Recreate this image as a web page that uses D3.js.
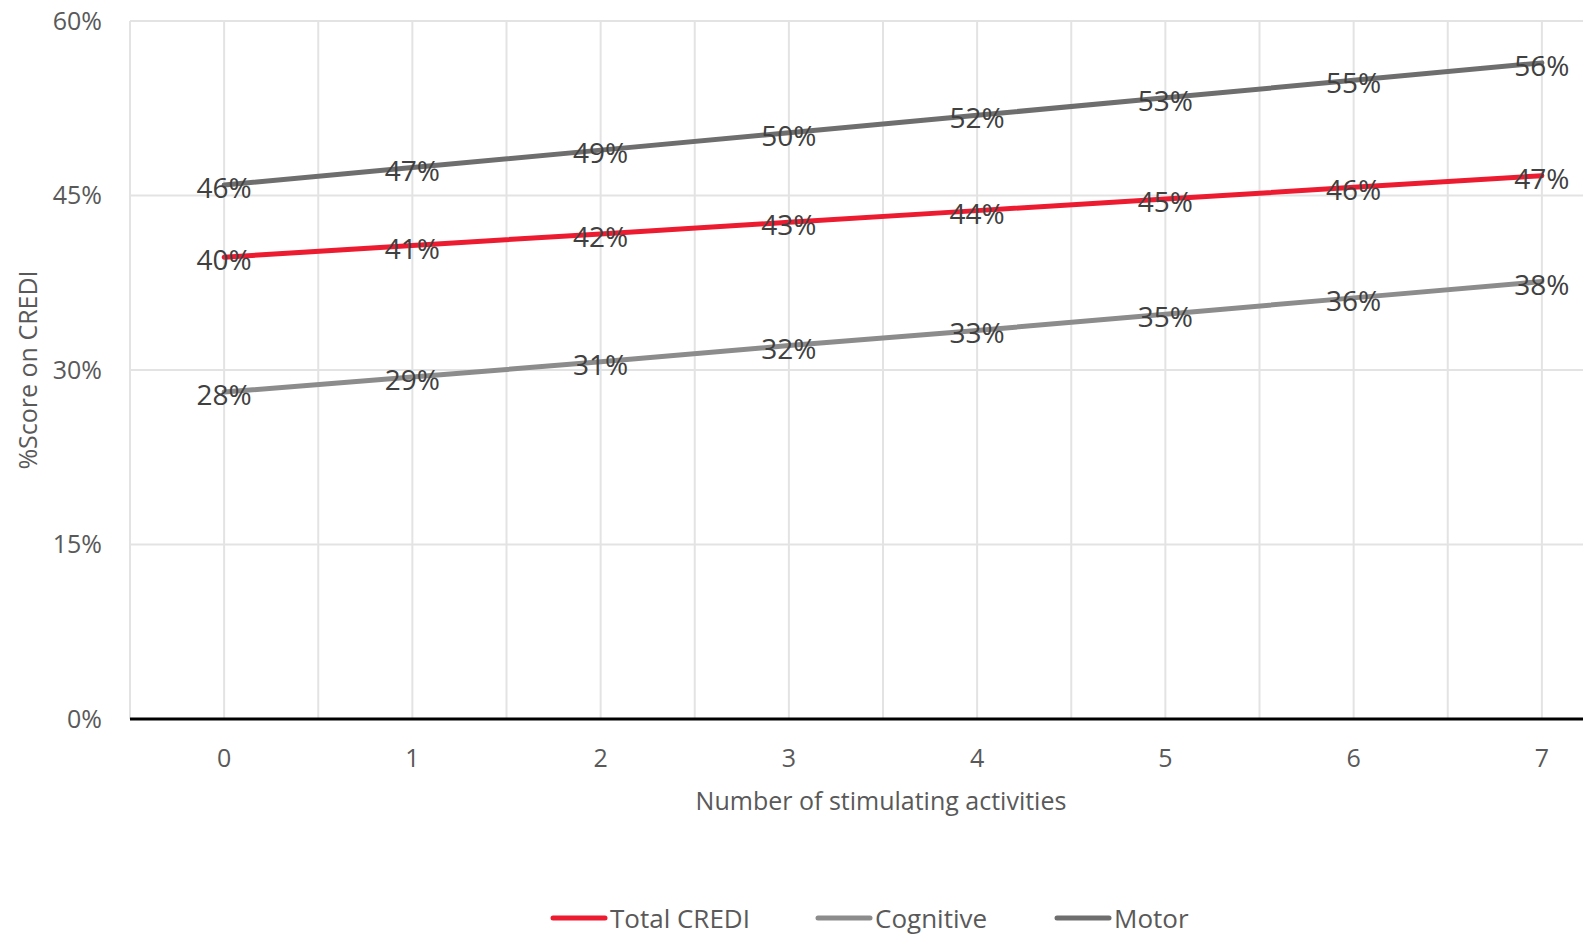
<!DOCTYPE html>
<html>
<head>
<meta charset="utf-8">
<script src="https://cdn.jsdelivr.net/npm/d3@7"></script>
<style>
  body { margin: 0; background: #fff; }
  svg { display: block; font-family: "Open Sans", "Noto Sans", sans-serif; }
</style>
</head>
<body>
<svg width="1583" height="937"></svg>
<script>
// chart data
const activities = [0, 1, 2, 3, 4, 5, 6, 7];
const totalCredi = [0.397, 0.407, 0.417, 0.427, 0.437, 0.447, 0.457, 0.467];
const cognitive = [0.281, 0.294, 0.307, 0.321, 0.334, 0.348, 0.362, 0.376];
const motor = [0.459, 0.474, 0.489, 0.504, 0.519, 0.534, 0.549, 0.564];
const yTicks = [0, 0.15, 0.30, 0.45, 0.60];
const seriesNames = ["Total CREDI", "Cognitive", "Motor"];
const seriesColors = ["#EC1B30", "#8C8C8C", "#6E6E6E"];

const series = [
  {name: seriesNames[0], values: totalCredi, color: seriesColors[0]},
  {name: seriesNames[1], values: cognitive, color: seriesColors[1]},
  {name: seriesNames[2], values: motor, color: seriesColors[2]}
];

const W = 1583, H = 937;
// plot area (the chart runs past the right edge of the picture, as in the original)
const plotLeft = 130, plotRight = 1636, plotTop = 21, plotBottom = 719;

const svg = d3.select("svg");

const x = d3.scaleBand()
  .domain(activities)
  .range([plotLeft, plotRight])
  .padding(0);

const y = d3.scaleLinear()
  .domain([0, 0.6])
  .range([plotBottom, plotTop]);

const cx = d => x(d) + x.bandwidth() / 2;
const pct = d3.format(".0%");

// vertical gridlines, at category edges and centres
const vLines = [];
activities.forEach(a => { vLines.push(x(a)); vLines.push(cx(a)); });
svg.append("g")
  .selectAll("line")
  .data(vLines)
  .enter().append("line")
  .attr("x1", d => d).attr("x2", d => d)
  .attr("y1", plotTop).attr("y2", plotBottom)
  .attr("stroke", "#E3E3E3")
  .attr("stroke-width", 2);

// horizontal gridlines
svg.append("g")
  .selectAll("line")
  .data(yTicks.filter(t => t > 0))
  .enter().append("line")
  .attr("x1", plotLeft).attr("x2", W)
  .attr("y1", d => y(d)).attr("y2", d => y(d))
  .attr("stroke", "#E3E3E3")
  .attr("stroke-width", 2);

// y axis labels
const yAxis = d3.axisLeft(y)
  .tickValues(yTicks)
  .tickFormat(pct)
  .tickSize(0)
  .tickPadding(28);
svg.append("g")
  .attr("transform", `translate(${plotLeft},0)`)
  .call(yAxis)
  .call(g => g.select(".domain").remove())
  .selectAll("text")
    .attr("font-size", "25px")
    .attr("font-family", "Open Sans")
    .attr("fill", "#595959");

// x axis
const xAxis = d3.axisBottom(x)
  .tickSize(0)
  .tickPadding(30);
svg.append("g")
  .attr("transform", `translate(0,${plotBottom})`)
  .call(xAxis)
  .call(g => g.select(".domain").remove())
  .selectAll("text")
    .attr("font-size", "25px")
    .attr("font-family", "Open Sans")
    .attr("fill", "#595959");

// zero line
svg.append("line")
  .attr("x1", plotLeft).attr("x2", W)
  .attr("y1", y(0)).attr("y2", y(0))
  .attr("stroke", "#000")
  .attr("stroke-width", 3);

// axis titles
svg.append("text")
  .attr("x", (plotLeft + plotRight) / 2 - 2)
  .attr("y", 800)
  .attr("text-anchor", "middle")
  .attr("dominant-baseline", "central")
  .attr("font-size", "25px")
  .attr("fill", "#595959")
  .text("Number of stimulating activities");

svg.append("text")
  .attr("transform", `translate(27,${(plotTop + plotBottom) / 2}) rotate(-90)`)
  .attr("text-anchor", "middle")
  .attr("dominant-baseline", "central")
  .attr("font-size", "25px")
  .attr("fill", "#595959")
  .text("%Score on CREDI");

// lines
const line = d3.line()
  .x((d, i) => cx(activities[i]))
  .y(d => y(d));

svg.append("g")
  .selectAll("path")
  .data(series)
  .enter().append("path")
  .attr("d", d => line(d.values))
  .attr("fill", "none")
  .attr("stroke", d => d.color)
  .attr("stroke-width", 5)
  .attr("stroke-linecap", "round");

// data labels, centred on points
series.forEach(s => {
  svg.append("g")
    .selectAll("text")
    .data(s.values)
    .enter().append("text")
    .attr("x", (d, i) => cx(activities[i]))
    .attr("y", d => y(d) + 2)
    .attr("text-anchor", "middle")
    .attr("dominant-baseline", "central")
    .attr("font-size", "28px")
    .attr("fill", "#404040")
    .text(d => pct(d));
});

// legend
const legendX = [553, 818, 1057];
const legend = svg.append("g");
series.forEach((s, i) => {
  const g = legend.append("g").attr("transform", `translate(${legendX[i]},918)`);
  g.append("line")
    .attr("x1", 0).attr("x2", 52)
    .attr("y1", 0).attr("y2", 0)
    .attr("stroke", s.color)
    .attr("stroke-width", 5)
    .attr("stroke-linecap", "round");
  g.append("text")
    .attr("x", 57)
    .attr("y", 0)
    .attr("dominant-baseline", "central")
    .attr("font-size", "26px")
    .attr("fill", "#595959")
    .text(s.name);
});
</script>
</body>
</html>
